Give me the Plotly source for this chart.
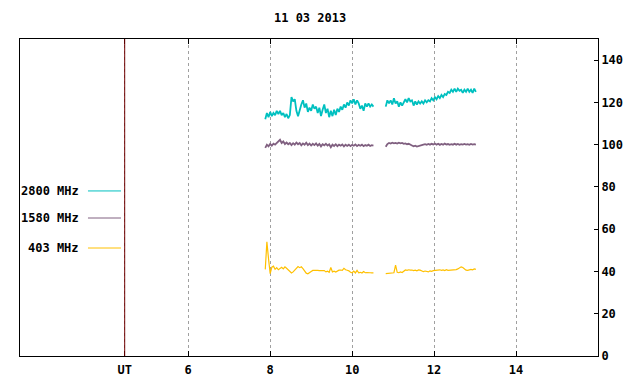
import plotly.graph_objects as go

# ---------------- data ----------------
title_text = "11 03 2013"
series_names = ["2800 MHz", "1580 MHz", "403 MHz"]
series_colors = ["#00c0c0", "#806080", "#ffc000"]

seg1_start, seg2_start, step_h = 7.88, 10.82, 0.04

teal_seg1 = [112, 115, 113, 115.5, 113.5, 115, 114, 116, 114.5, 116, 114, 115, 113, 114.5, 112.5, 114,
             122.5, 120.5, 121.5, 116, 113.5, 116.5, 119, 121, 117.5, 119.5, 115.5, 117.5, 116, 119, 117,
             118, 115, 117.5, 113.5, 116.5, 119, 115, 117, 113, 116, 113.5, 116.5, 114, 117, 115.5, 118,
             116.5, 119, 117.5, 120, 118.5, 121, 119.5, 121.5, 119, 121, 119.5, 117, 118.5, 116, 119.5,
             118, 119.5, 118, 119, 118]
teal_seg2 = [118, 121, 119.5, 121, 119, 122, 119.5, 120.5, 118, 120, 118.5, 120, 121.5, 120, 122, 120.5,
             121, 118.5, 120.5, 119, 120.5, 119.5, 120.5, 119.5, 121, 120, 121, 120.5, 122, 121, 122.5,
             121.5, 123, 122, 123.5, 122.5, 124, 123.5, 125, 124.5, 126, 125, 126.5, 125, 126.5, 125.5,
             126, 124.5, 126, 125, 126.5, 125, 126, 124.5, 126.5, 125]

purple_seg1 = [98.5, 100, 99.2, 100.3, 99.5, 100.5, 100, 100.8, 101.5, 102.3, 100.8, 101.5, 100.3, 101,
               100.2, 100.8, 99.8, 100.7, 100, 101, 100.2, 100.8, 99.7, 100.6, 100, 100.9, 99.8, 100.5,
               99.6, 100.4, 99.8, 100.6, 99.5, 100.3, 99.2, 100.2, 99.7, 100.4, 99.6, 100.2, 98.8, 100,
               99.4, 100.2, 99.3, 100, 99.5, 100.1, 99.2, 100, 99.4, 100, 99.3, 99.9, 99.5, 100.1, 99.3,
               99.9, 99.5, 100, 99.3, 99.8, 99.5, 100, 99.4, 99.8, 99.6]
purple_seg2 = [99, 100.3, 100.8, 100.5, 100.9, 100.6, 100.8, 100.5, 100.9, 100.6, 100.8, 100.4, 100.6,
               100.2, 100.4, 99.8, 99.6, 99.2, 99.5, 99.1, 99.4, 99.6, 99.8, 100, 100.2, 99.9, 100.3, 100,
               100.4, 100.1, 100.5, 100, 100.4, 99.9, 100.3, 100, 100.5, 100.1, 100.3, 99.9, 100.2, 100,
               100.4, 100, 100.3, 99.9, 100.2, 100, 100.3, 100, 100.2, 99.9, 100.3, 100, 100.2, 100]

orange_seg1 = [41, 54, 46, 39, 42, 42.5, 41, 41.8, 40.8, 41.5, 42, 41.2, 42.2, 41.5, 40.8, 40, 39.3, 39.8,
               40.8, 41.8, 42.3, 41.8, 42.2, 41.3, 40.2, 39.2, 38.9, 39.3, 40, 40.5, 40.6, 40.5, 40.5,
               40.4, 40.5, 40.3, 40.4, 39.8, 40.1, 39.6, 41.9, 39.8, 40.1, 39.7, 40.3, 40.6, 40.7, 40.5,
               41.5, 40.8, 40.6, 40.3, 39.6, 39.4, 40.2, 39.3, 40.5, 39.4, 39.6, 39.3, 40, 39.4, 39.5,
               39.3, 39.4, 39.3, 39.3]
orange_seg2 = [39, 39.1, 39.2, 39.1, 39.3, 39.4, 43, 39.6, 39.4, 39.8, 39.5, 40.2, 40.7, 40.5, 40.8, 40.6,
               40.7, 40.4, 40.6, 40.3, 40.7, 40.6, 40.1, 39.9, 40.2, 40, 39.8, 40.3, 40.1, 40.4, 40.5,
               40.6, 40.4, 40.8, 40.5, 40.7, 40.4, 40.8, 40.5, 40.6, 40.5, 40.8, 40.6, 40.9, 41.2, 41.6,
               42.2, 41.9, 41.2, 40.6, 40.5, 40.8, 41, 40.8, 41.2, 41]

x_tick_vals = [4.45, 6, 8, 10, 12, 14]
x_tick_text = ["UT", "6", "8", "10", "12", "14"]
y_tick_vals = [0, 20, 40, 60, 80, 100, 120, 140]
legend_y = [78.1, 65.3, 51.1]
ut_position = 4.45


def times(start, values):
    return [round(start + step_h * i, 4) for i in range(len(values))]


def joined(seg1, seg2):
    xs = times(seg1_start, seg1) + [None] + times(seg2_start, seg2)
    ys = list(seg1) + [None] + list(seg2)
    return xs, ys


series = [(teal_seg1, teal_seg2), (purple_seg1, purple_seg2), (orange_seg1, orange_seg2)]
widths = [1.8, 1.8, 1.2]

FONT = "DejaVu Sans Mono"

fig = go.Figure()
for name, color, w, (s1, s2) in zip(series_names, series_colors, widths, series):
    xs, ys = joined(s1, s2)
    fig.add_trace(go.Scatter(x=xs, y=ys, mode="lines", name=name,
                             line=dict(color=color, width=w), connectgaps=False,
                             showlegend=False))

# UT marker line
fig.add_shape(type="line", xref="x", yref="paper", x0=ut_position, x1=ut_position, y0=0, y1=1,
              line=dict(color="#700000", width=1))

# hand-made legend
for name, color, ly in zip(series_names, series_colors, legend_y):
    fig.add_annotation(xref="paper", yref="y", x=0.1055, y=ly, text=name, showarrow=False,
                       xanchor="right", yanchor="middle",
                       font=dict(family=FONT, size=12, color="#000000", weight="bold"))
    fig.add_shape(type="line", xref="paper", yref="y", x0=0.1176, x1=0.1747, y0=ly, y1=ly,
                  line=dict(color=color, width=1))

# the page body has an 8px margin, so the figure is sized to fit the 640x384 window
fig.update_layout(
    width=632, height=376,
    margin=dict(l=12, r=42, t=31, b=28, autoexpand=False),
    paper_bgcolor="white", plot_bgcolor="white",
    title=dict(text=title_text, x=0.478, xanchor="center", y=0.973, yanchor="middle",
               automargin=False,
               font=dict(family=FONT, size=12, color="#000000", weight="bold")),
    font=dict(family=FONT, size=12, color="#000000", weight="bold"),
    showlegend=False,
)
fig.update_xaxes(range=[1.895, 16.0], tickmode="array", tickvals=x_tick_vals, ticktext=x_tick_text,
                 showline=True, linecolor="#000000", linewidth=1, mirror="ticks",
                 ticks="inside", ticklen=5, tickcolor="#000000", ticklabelstandoff=3,
                 automargin=False,
                 showgrid=True, gridcolor="#a0a0a0", griddash="3px,3px", gridwidth=1,
                 zeroline=False, tickfont=dict(family=FONT, size=12, weight="bold"))
fig.update_yaxes(range=[0, 150], side="right", tickmode="array", tickvals=y_tick_vals,
                 showline=True, linecolor="#000000", linewidth=1, mirror=True,
                 ticks="inside", ticklen=4, tickcolor="#000000",
                 automargin=False,
                 showgrid=False, zeroline=False,
                 tickfont=dict(family=FONT, size=12, weight="bold"))

fig.write_html("out.html")
